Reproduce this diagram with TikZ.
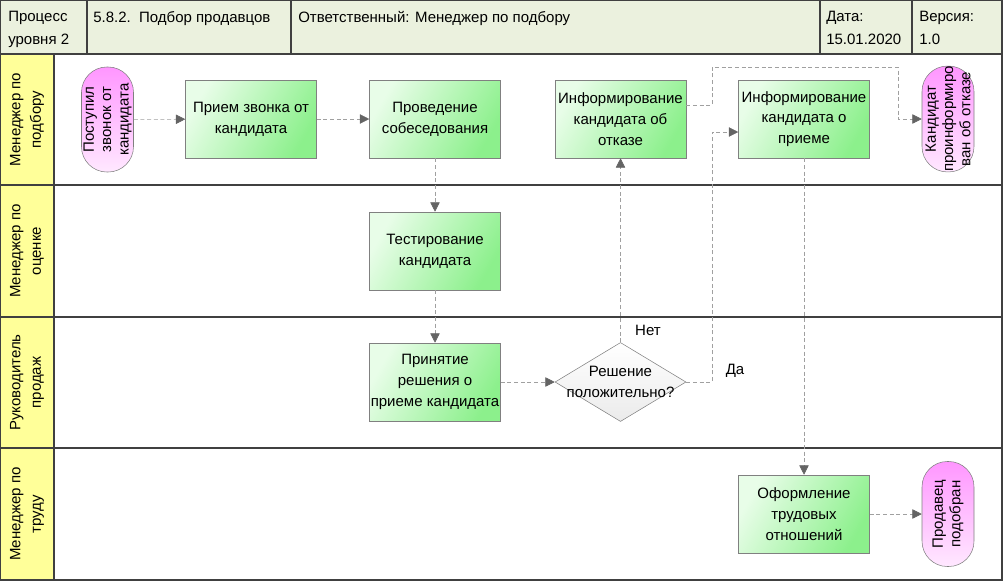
\documentclass[tikz,border=0pt]{standalone}
\usepackage{fontspec}
\setmainfont{Liberation Sans}
\usetikzlibrary{arrows.meta}
\usetikzlibrary{shapes.geometric}

\definecolor{frameline}{RGB}{64,64,64}
\definecolor{headfill}{RGB}{235,241,222}
\definecolor{lanefill}{RGB}{255,255,153}
\definecolor{flowline}{RGB}{160,160,160}
\definecolor{tipgrey}{RGB}{100,100,100}
\definecolor{boxborder}{RGB}{128,128,128}
\definecolor{boxlight}{RGB}{232,253,232}
\definecolor{boxgreen}{RGB}{140,240,140}
\definecolor{pinkdark}{RGB}{255,150,255}
\definecolor{pinklight}{RGB}{255,232,255}

\tikzset{
  txt/.style={font=\fontsize{11.25}{15.5}\selectfont},
  task/.style={txt, draw=boxborder, left color=boxlight, right color=boxgreen, shading angle=60,
    minimum width=98.25pt, minimum height=58.5pt, align=center, inner sep=0pt},
  term/.style={draw=boxborder, top color=pinkdark, bottom color=pinklight, rotate=90,
    rounded corners=19pt, minimum width=78.75pt, minimum height=39pt, align=center, inner sep=0pt,
    font=\fontsize{11.25}{13}\selectfont},
  decision/.style={diamond, draw=boxborder, top color=white, bottom color=black!8,
    minimum width=98.25pt, minimum height=59.25pt, inner sep=0pt},
  flow/.style={draw=flowline, dash pattern=on 3pt off 2pt,
    -{Triangle[length=7pt,width=7pt,color=tipgrey]}},
  lanelbl/.style={txt, rotate=90, align=center},
  headtxt/.style={anchor=north west, align=left, inner sep=0pt,
    font=\fontsize{11.25}{17}\selectfont}
}

\begin{document}
\begin{tikzpicture}[x=0.75pt, y=-0.75pt]
  \useasboundingbox (0,0) rectangle (1003,582);

  % header and lanes
  \fill[headfill] (0,0) rectangle (1002,54);
  \fill[lanefill] (0,54) rectangle (54,580);
  \draw[frameline, line width=1.5pt] (0,0) rectangle (1002,580);
  \draw[frameline, line width=1.5pt] (0,54) -- (1002,54);
  \draw[frameline, line width=1.5pt] (0,185) -- (1002,185);
  \draw[frameline, line width=1.5pt] (0,317) -- (1002,317);
  \draw[frameline, line width=1.5pt] (0,448) -- (1002,448);
  \draw[frameline, line width=1.5pt] (54,54) -- (54,580);
  \draw[frameline, line width=1.5pt] (87,0) -- (87,54);
  \draw[frameline, line width=1.5pt] (291,0) -- (291,54);
  \draw[frameline, line width=1.5pt] (820,0) -- (820,54);
  \draw[frameline, line width=1.5pt] (912,0) -- (912,54);

  \node[headtxt] (hlevel) at (8,11) {Процесс\\уровня 2};
  \node[headtxt] (hname) at (93,11) {5.8.2.\ \ Подбор продавцов};
  \node[headtxt] (howner) at (298,11) {Ответственный: Менеджер по подбору};
  \node[headtxt] (hdate) at (826,11) {Дата:\\15.01.2020};
  \node[headtxt] (hver) at (919,11) {Версия:\\1.0};

  \node[lanelbl] (lane1) at (27,119.5) {Менеджер по\\подбору};
  \node[lanelbl] (lane2) at (27,251) {Менеджер по\\оценке};
  \node[lanelbl] (lane3) at (27,382.5) {Руководитель\\продаж};
  \node[lanelbl] (lane4) at (27,514) {Менеджер по\\труду};

  % steps
  \node[term] (call) at (107.5,119.5) {Поступил\\звонок от\\кандидата};
  \node[task] (recv) at (251,119) {Прием звонка от\\кандидата};
  \node[task] (interv) at (435,119) {Проведение\\собеседования};
  \node[task] (reject) at (620.5,119) {Информирование\\кандидата об\\отказе};
  \node[task] (accept) at (804,119) {Информирование\\кандидата о\\приеме};
  \node[term] (informed) at (948,119) {Кандидат\\проинформиро\\ван об отказе};
  \node[task] (test) at (435,251) {Тестирование\\кандидата};
  \node[task] (decide) at (435,382) {Принятие\\решения о\\приеме кандидата};
  \node[decision] (check) at (620.5,382) {};
  \node[txt, align=center] (checktxt) at (check.center) {Решение\\положительно?};
  \node[task] (hire) at (804,514) {Оформление\\трудовых\\отношений};
  \node[term] (found) at (948,514) {Продавец\\подобран};

  \node[txt] (nolbl) at (648,330) {Нет};
  \node[txt] (yeslbl) at (735,371) {Да};

  % connectors
  \coordinate (yesturn) at (712,132);
  \coordinate (rejout) at (reject.east |- 0,105);
  \coordinate (noturn) at (712,67);
  \coordinate (dropin) at (898,119);

  \draw[flow] (call) -- (recv);
  \draw[flow] (recv) -- (interv);
  \draw[flow] (interv) -- (test);
  \draw[flow] (test) -- (decide);
  \draw[flow] (decide) -- (check);
  \draw[flow] (check) -- (reject);
  \draw[flow] (check.east) -| (yesturn) -- (yesturn -| accept.west);
  \draw[flow] (rejout) -| (noturn) -| (dropin) -- (informed);
  \draw[flow] (accept) -- (hire);
  \draw[flow] (hire) -- (found);
\end{tikzpicture}
\end{document}
